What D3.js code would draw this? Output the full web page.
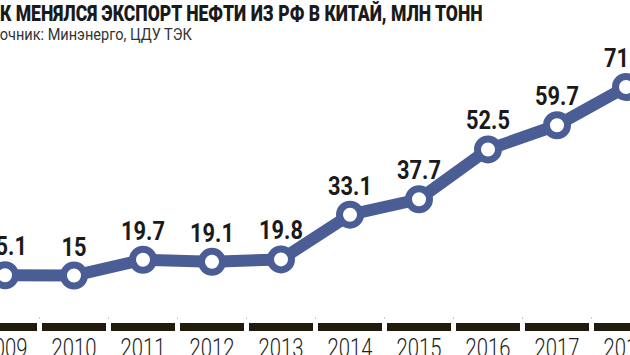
<!DOCTYPE html>
<html><head><meta charset="utf-8">
<script src="https://cdn.jsdelivr.net/npm/d3@7"></script>
<style>
html,body{margin:0;padding:0;background:#fff;overflow:hidden}
svg{display:block}
</style></head>
<body>
<svg id="c" width="630" height="355"></svg>
<script>
const title = "КАК МЕНЯЛСЯ ЭКСПОРТ НЕФТИ ИЗ РФ В КИТАЙ, МЛН ТОНН";
const source = "Источник: Минэнерго, ЦДУ ТЭК";
const years = ["2009","2010","2011","2012","2013","2014","2015","2016","2017","2018"];
const values = [15.1, 15, 19.7, 19.1, 19.8, 33.1, 37.7, 52.5, 59.7, 71.1];
const labels = ["15.1","15","19.7","19.1","19.8","33.1","37.7","52.5","59.7","71.1"];

const font = "Roboto,'DejaVu Sans Condensed',sans-serif";
const svg = d3.select("#c");

const x = d3.scalePoint().domain(years).range([5, 626]);
const y = d3.scaleLinear().domain([0, 80]).range([326, 57]);
const step = x.step();

function measure(str, size, weight) {
  const t = svg.append("text").attr("font-family", font).attr("font-size", size)
    .attr("font-weight", weight).text(str);
  const w = t.node().getComputedTextLength();
  t.remove();
  return w;
}
// header text, cut at the left edge like the reference: hidden prefix ends at x=0, text ends at endX
function header(str, hiddenPrefix, endX, baseY, size, weight, color) {
  const full = measure(str, size, weight);
  const pre = measure(hiddenPrefix, size, weight);
  const s = endX / (full - pre);
  svg.append("text")
    .attr("transform", `translate(${-pre * s},${baseY}) scale(${s},1)`)
    .attr("font-family", font).attr("font-size", size).attr("font-weight", weight)
    .attr("fill", color).text(str);
}
header(title, "КА", 483, 20.5, 22, 900, "#1a1a1a");
header(source, "Ист", 192, 40, 16.5, "normal", "#333");

// axis bars
const gap = 5;
svg.append("g").selectAll("rect").data(years).join("rect")
  .attr("x", d => x(d) - step / 2 + gap / 2)
  .attr("width", step - gap)
  .attr("y", 323).attr("height", 8)
  .attr("fill", "#221a0d");
svg.append("g").selectAll("line").data(years.slice(1)).join("line")
  .attr("x1", d => x(d) - step / 2).attr("x2", d => x(d) - step / 2)
  .attr("y1", 317).attr("y2", 319)
  .attr("stroke", "#ccc").attr("stroke-width", 1);

// year labels
svg.append("g").selectAll("text").data(years).join("text")
  .attr("transform", d => `translate(${x(d)},357) scale(0.78,1)`)
  .attr("text-anchor", "middle")
  .attr("font-family", font).attr("font-weight", 300).attr("font-size", 26).attr("fill", "#222")
  .text(d => d);

// line
const pts = years.map((d, i) => [x(d), y(values[i])]);
svg.append("path").attr("d", d3.line()(pts))
  .attr("fill", "none").attr("stroke", "#4a5e95").attr("stroke-width", 12)
  .attr("stroke-linejoin", "round");

svg.append("g").selectAll("circle").data(pts).join("circle")
  .attr("cx", d => d[0]).attr("cy", d => d[1]).attr("r", 10.5)
  .attr("fill", "#fff").attr("stroke", "#4a5e95").attr("stroke-width", 7);

// value labels
svg.append("g").selectAll("text").data(years).join("text")
  .attr("transform", (d, i) => `translate(${x(d)},${y(values[i]) - 20}) scale(0.84,1)`)
  .attr("text-anchor", "middle")
  .attr("font-family", font).attr("font-weight", "bold").attr("font-size", 26)
  .attr("fill", "#1a1a1a").text((d, i) => labels[i]);
</script>
</body></html>
